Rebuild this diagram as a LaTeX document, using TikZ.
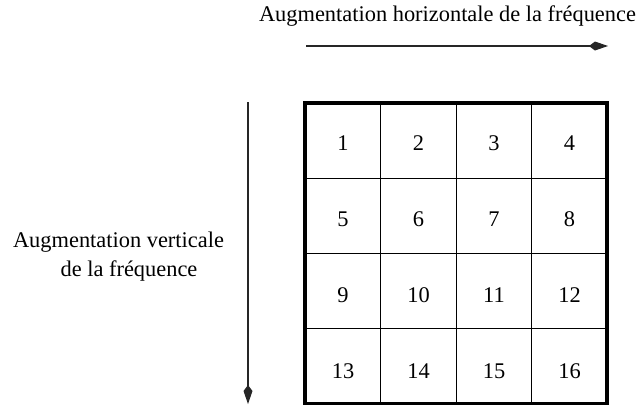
\documentclass[tikz,border=0pt]{standalone}
\usepackage{fontspec}
\setmainfont{Liberation Serif}
\usetikzlibrary{arrows.meta}
\begin{document}
\begin{tikzpicture}[x=1pt,y=-1pt,
  lbl/.style={font=\fontsize{22.4}{26}\selectfont, inner sep=0pt, anchor=base},
  num/.style={font=\fontsize{22.4}{26}\selectfont, inner sep=0pt, anchor=base},
  arr/.style={line width=1.2pt, draw=black!85, -{Kite[length=19pt,width=9pt,inset=6pt]}},
  grid/.style={line width=1pt},
  frame/.style={line width=3.2pt}]
\useasboundingbox (0,0) rectangle (641,405);
% horizontal label and arrow
\node[lbl] (ht) at (447.5,21) {Augmentation horizontale de la fréquence};
\coordinate (h1) at (306,46);
\coordinate (h2) at (608,46);
\draw[arr] (h1) -- (h2);
% vertical label and arrow
\node[lbl] (vt1) at (118.5,247) {Augmentation verticale};
\node[lbl] (vt2) at (129,276) {de la fréquence};
\coordinate (v1) at (248,102);
\coordinate (v2) at (248,404);
\draw[arr] (v1) -- (v2);
% grid
\coordinate (g1) at (305,103);
\coordinate (g2) at (607,403.4);
\foreach \x in {380.5,456,531.5} \draw[grid] (\x,103) -- (\x,403.4);
\foreach \y in {178,253,328} \draw[grid] (305,\y) -- (607,\y);
\draw[frame] (g1) rectangle (g2);
% numbers
\foreach \r/\yb in {0/150,1/226,2/302,3/378} {
  \foreach \c/\xc in {1/343,2/418.5,3/494,4/569.5} {
    \pgfmathtruncatemacro{\n}{\r*4+\c}
    \node[num] (n\n) at (\xc,\yb) {\n};
  }
}
\end{tikzpicture}
\end{document}
